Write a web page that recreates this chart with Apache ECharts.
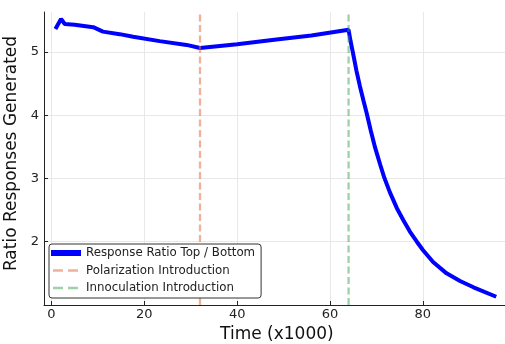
<!DOCTYPE html>
<html>
<head>
<meta charset="utf-8">
<script src="https://cdn.jsdelivr.net/npm/echarts@6/dist/echarts.min.js"></script>
<style>
html,body{margin:0;padding:0;background:#fff;}
#chart{width:505px;height:344px;}
</style>
</head>
<body>
<div id="chart"></div>
<script>
// Time (x1000)
const timeValues = [0.86, 2.07, 2.87, 5, 9, 11.1, 14.7, 17.6, 23.3, 29.1, 32,
  40, 48, 56, 64, 64.4, 64.9, 65.7, 66.4, 67.2, 67.9, 68.8, 69.7, 70.8, 71.7,
  72.9, 74.4, 75.8, 77.2, 78.7, 80, 82.2, 85.1, 88, 90.9, 95.8];
// Response Ratio Top / Bottom
const ratioValues = [5.36, 5.52, 5.44, 5.43, 5.39, 5.32, 5.28, 5.24, 5.17, 5.11, 5.06,
  5.12, 5.19, 5.26, 5.35, 5.18, 5.0, 4.70, 4.47, 4.23, 4.03, 3.75, 3.49, 3.22, 3.01,
  2.78, 2.53, 2.34, 2.16, 2.0, 1.87, 1.68, 1.50, 1.38, 1.28, 1.13];
const polarizationTime = 32;
const innoculationTime = 64;
const xTicks = [0, 20, 40, 60, 80];
const yTicks = [2, 3, 4, 5];
const xLimits = [-1.6, 98.7];
const yLimits = [1.0, 5.63];
const seriesNames = ['Response Ratio Top / Bottom', 'Polarization Introduction', 'Innoculation Introduction'];

const font = 'DejaVu Sans';
const mainData = timeValues.map((t, i) => [t, ratioValues[i]]);
const vline = (x) => [[x, yLimits[0]], [x, yLimits[1]]];

// legend glyphs (30 x 12 box): a thick solid bar and a two-dash bar
const solidIcon = 'path://M0,0h0.01v0.01h-0.01z M29.99,11.99h0.01v0.01h-0.01z M0,3h30v6h-30z';
const dashIcon = 'path://M0,0h0.01v0.01h-0.01z M29.99,11.99h0.01v0.01h-0.01z M2,4.65h10v2.7h-10z M17,4.65h10v2.7h-10z';

const chart = echarts.init(document.getElementById('chart'), null, {renderer: 'canvas'});
const axisCommon = {
  axisLine: {show: true, onZero: false, lineStyle: {color: '#222', width: 1}},
  splitLine: {show: true, lineStyle: {color: '#e8e8e8', width: 1}},
  nameLocation: 'middle'
};
chart.setOption({
  animation: false,
  backgroundColor: '#fff',
  grid: {left: 44, top: 12, bottom: 39, right: -4.7, containLabel: false, outerBoundsMode: 'none'},
  xAxis: Object.assign({}, axisCommon, {
    type: 'value', min: xLimits[0], max: xLimits[1],
    name: 'Time (x1000)', nameGap: 12,
    nameTextStyle: {fontFamily: font, fontSize: 17, color: '#111'},
    axisTick: {show: true, inside: true, length: 4, customValues: xTicks, lineStyle: {color: '#222', width: 1}},
    axisLabel: {customValues: xTicks, fontFamily: font, fontSize: 13, color: '#222', margin: 3}
  }),
  yAxis: Object.assign({}, axisCommon, {
    type: 'value', min: yLimits[0], max: yLimits[1],
    name: 'Ratio Responses Generated', nameGap: 15,
    nameTextStyle: {fontFamily: font, fontSize: 17, color: '#111', padding: [0, 0, 0, 10]},
    axisTick: {show: true, inside: true, length: 4, customValues: yTicks, lineStyle: {color: '#222', width: 1}},
    axisLabel: {customValues: yTicks, fontFamily: font, fontSize: 13, color: '#222', margin: 5}
  }),
  legend: {
    orient: 'vertical', left: 49, top: 244,
    backgroundColor: '#fff', borderColor: '#333', borderWidth: 1, borderRadius: 3,
    padding: [3, 6, 4, 2], itemWidth: 30, itemHeight: 12, itemGap: 5.5,
    textStyle: {fontFamily: font, fontSize: 11.8, color: '#222'},
    data: [
      {name: seriesNames[0], icon: solidIcon},
      {name: seriesNames[1], icon: dashIcon},
      {name: seriesNames[2], icon: dashIcon}
    ]
  },
  series: [
    {name: seriesNames[0], type: 'line', data: mainData, symbol: 'none',
     lineStyle: {color: '#0000ff', width: 4}, itemStyle: {color: '#0000ff'}},
    {name: seriesNames[1], type: 'line', data: vline(polarizationTime), symbol: 'none',
     lineStyle: {color: 'rgba(227,111,71,0.55)', width: 2.3, type: [7, 3.5]},
     itemStyle: {color: 'rgba(227,111,71,0.55)'}},
    {name: seriesNames[2], type: 'line', data: vline(innoculationTime), symbol: 'none',
     lineStyle: {color: 'rgba(62,164,78,0.5)', width: 2.3, type: [7, 3.5]},
     itemStyle: {color: 'rgba(62,164,78,0.5)'}}
  ]
});
</script>
</body>
</html>
